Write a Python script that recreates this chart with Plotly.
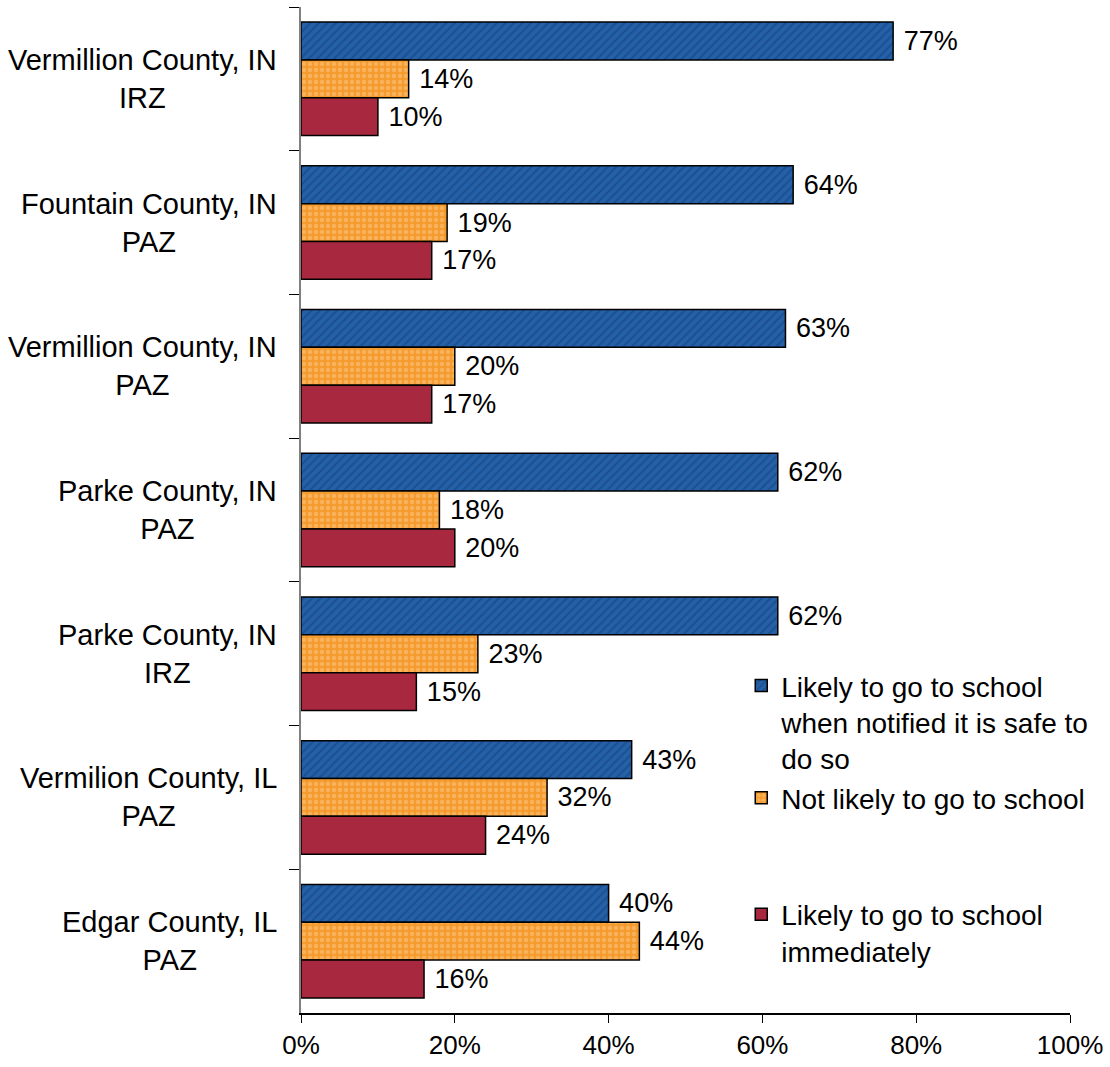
import plotly.graph_objects as go

categories = [
    "Vermillion County, IN<br>IRZ",
    "Fountain County, IN<br>PAZ",
    "Vermillion County, IN<br>PAZ",
    "Parke County, IN<br>PAZ",
    "Parke County, IN<br>IRZ",
    "Vermilion County, IL<br>PAZ",
    "Edgar County, IL<br>PAZ",
]
likely_when_safe = [0.77, 0.64, 0.63, 0.62, 0.62, 0.43, 0.40]
not_likely = [0.14, 0.19, 0.20, 0.18, 0.23, 0.32, 0.44]
likely_immediately = [0.10, 0.17, 0.17, 0.20, 0.15, 0.24, 0.16]
series_names = [
    "Likely to go to school<br>when notified it is safe to<br>do so",
    "Not likely to go to school",
    "Likely to go to school<br>immediately",
]
x_ticks = [0, 0.2, 0.4, 0.6, 0.8, 1.0]

FONT = "Liberation Sans, Arial, sans-serif"

fig = go.Figure()
fig.add_trace(go.Bar(
    y=categories, x=likely_when_safe, orientation="h", name=series_names[0],
    legendgroup="g1",
    marker=dict(color="#2461A8", line=dict(color="black", width=1.5),
                pattern=dict(shape="/", fgcolor="#163E78", bgcolor="#2461A8",
                             size=6, solidity=0.35)),
    texttemplate="\u00a0%{x:.0%}", textposition="outside",
    textfont=dict(size=27, color="black", family=FONT), cliponaxis=False,
))
fig.add_trace(go.Bar(
    y=categories, x=not_likely, orientation="h", name=series_names[1],
    legendgroup="g1",
    marker=dict(color="#F59A2C", line=dict(color="black", width=1.5),
                pattern=dict(shape=".", fgcolor="#FBC98A", bgcolor="#F59A2C",
                             size=6, solidity=0.45)),
    texttemplate="\u00a0%{x:.0%}", textposition="outside",
    textfont=dict(size=27, color="black", family=FONT), cliponaxis=False,
))
fig.add_trace(go.Bar(
    y=categories, x=likely_immediately, orientation="h", name=series_names[2],
    legendgroup="g2",
    marker=dict(color="#A8293F", line=dict(color="black", width=1.5)),
    texttemplate="\u00a0%{x:.0%}", textposition="outside",
    textfont=dict(size=27, color="black", family=FONT), cliponaxis=False,
))

for c in categories:
    fig.add_annotation(
        x=-0.029, xref="paper", y=c, yref="y", text=c, showarrow=False,
        xanchor="right", yanchor="middle", align="center",
        font=dict(size=29, color="black", family=FONT),
    )

fig.update_layout(
    width=1110, height=1067,
    margin=dict(l=301, r=37, t=7, b=50),
    paper_bgcolor="white", plot_bgcolor="white",
    barmode="group", bargap=0.21, bargroupgap=0,
    font=dict(family=FONT, color="black"),
    showlegend=True,
    legend=dict(
        x=0.5725, xanchor="left", y=0.35, yanchor="top",
        traceorder="grouped", tracegroupgap=77, valign="top",
        font=dict(size=28, color="black", family=FONT),
        bgcolor="rgba(0,0,0,0)",
    ),
    xaxis=dict(
        range=[0, 1], tickvals=x_ticks, tickformat=".0%",
        ticks="outside", ticklen=8, tickcolor="black", tickwidth=1,
        showline=True, linecolor="black", linewidth=1.5,
        showgrid=False, zeroline=False,
        tickfont=dict(size=26, color="black", family=FONT),
    ),
    yaxis=dict(
        type="category", categoryorder="array", categoryarray=categories,
        autorange="reversed", showticklabels=False,
        ticks="outside", tickson="boundaries", ticklen=10,
        tickcolor="black", tickwidth=1,
        showline=True, linecolor="#808080", linewidth=2,
        showgrid=False, zeroline=False,
    ),
)

fig.write_html("out.html", config={"displayModeBar": False},
               post_script="document.body.style.margin='0';")
